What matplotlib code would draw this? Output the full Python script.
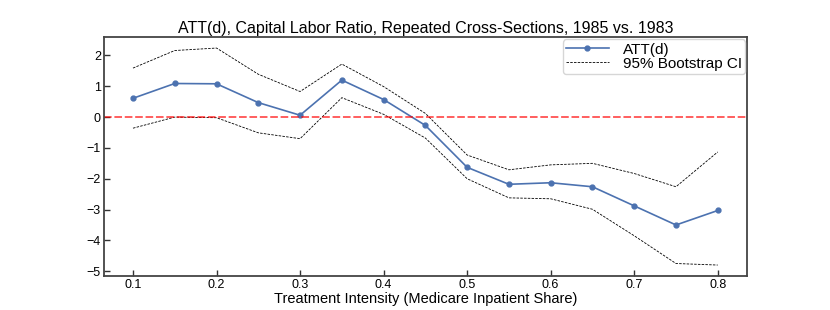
import numpy as np
import matplotlib.pyplot as plt

plt.rcParams['font.family'] = ['Liberation Sans', 'DejaVu Sans']

# Treatment intensity grid and estimates
dose = [0.1, 0.15, 0.2, 0.25, 0.3, 0.35, 0.4, 0.45, 0.5, 0.55, 0.6, 0.65, 0.7, 0.75, 0.8]
att = [0.61, 1.09, 1.08, 0.47, 0.06, 1.20, 0.57, -0.27, -1.63, -2.18, -2.13, -2.26, -2.88, -3.50, -3.03]
ci_upper = [1.59, 2.16, 2.24, 1.39, 0.83, 1.72, 0.99, 0.12, -1.23, -1.71, -1.55, -1.50, -1.83, -2.26, -1.13]
ci_lower = [-0.36, 0.00, -0.02, -0.51, -0.70, 0.63, 0.09, -0.68, -2.00, -2.62, -2.65, -2.99, -3.85, -4.75, -4.80]

fig, ax = plt.subplots(figsize=(8.3, 3.1), dpi=100)

ax.plot(dose, att, color='#4C72B0', marker='o', markersize=3.5, linewidth=1.2, label='ATT(d)')
ax.plot(dose, ci_upper, color='black', linestyle='--', linewidth=0.6, dashes=(3, 1.5), label='95% Bootstrap CI')
ax.plot(dose, ci_lower, color='black', linestyle='--', linewidth=0.6, dashes=(3, 1.5))
ax.axhline(0, color='red', linestyle='--', linewidth=1.1, alpha=0.8, dashes=(5, 1.8))

ax.set_title('ATT(d), Capital Labor Ratio, Repeated Cross-Sections, 1985 vs. 1983', fontsize=11.5, pad=3)
ax.set_xlabel('Treatment Intensity (Medicare Inpatient Share)', fontsize=10.5, labelpad=1)
ax.set_yticks([2, 1, 0, -1, -2, -3, -4, -5])
ax.set_xticks([0.1, 0.2, 0.3, 0.4, 0.5, 0.6, 0.7, 0.8])
ax.tick_params(direction='in', length=4, width=1, labelsize=9, pad=2,
               colors='#333333', labelcolor='black')

for s in ax.spines.values():
    s.set_linewidth(1.3)
    s.set_color('#444444')

ax.legend(loc='upper right', fontsize=11, frameon=True, fancybox=True,
          edgecolor='#cccccc', borderpad=0.2, labelspacing=0.0, handlelength=2.8,
          handletextpad=0.9, borderaxespad=0.15)

plt.savefig('out.png', dpi=100)
